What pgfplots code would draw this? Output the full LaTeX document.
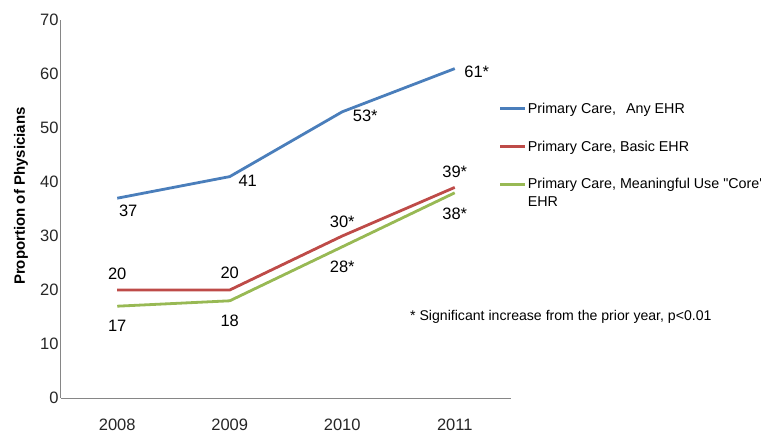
\documentclass[border=0pt]{standalone}
\usepackage{fontspec}
\setmainfont{Liberation Sans}
% same face without the TeX quote mapping, for straight quotes
\newfontfamily\plainsans{Liberation Sans}
\usepackage{pgfplots}
\pgfplotsset{compat=1.18}
\definecolor{anyehr}{HTML}{4A7EBB}
\definecolor{basicehr}{HTML}{BE4B48}
\definecolor{coreehr}{HTML}{98B954}
\definecolor{axisgray}{HTML}{868686}

\newcommand{\lblfont}{\fontsize{16.5}{19}\selectfont}

\begin{document}
\begin{tikzpicture}
\path[use as bounding box] (-61pt,-36pt) rectangle (700pt,398pt);
\begin{axis}[
  at={(0,0)}, anchor=south west,
  scale only axis, width=450pt, height=378pt,
  xmin=-0.5, xmax=3.5, ymin=0, ymax=70,
  axis lines*=left,
  axis line style={axisgray, line width=1pt},
  xtick={0,1,2,3}, xticklabels={2008,2009,2010,2011},
  ytick={0,10,...,70},
  major tick length=0pt,
  tick label style={font=\lblfont, text=black!85},
  /pgf/number format/assume math mode=true,
  xticklabel style={yshift=-17pt},
  yticklabel style={xshift=1pt},
  ylabel={Proportion of Physicians},
  ylabel style={at={([xshift=-40pt]rel axis cs:0,0.534)}, anchor=center,
    font=\bfseries\fontsize{15}{18}\selectfont},
  clip=false,
  legend style={at={(rel axis cs:0.973,0.784)}, anchor=north west,
    draw=none, fill=none, inner sep=0pt, row sep=24pt,
    font=\fontsize{14.3}{18}\selectfont,
    nodes={inner sep=1pt}},
  legend cell align=left,
  legend image code/.code={\draw[#1] (0pt,0pt) -- (25pt,0pt);},
]
\addplot[anyehr, line width=2.8pt] coordinates {(0,37) (1,41) (2,53) (3,61)};
\addlegendentry{Primary Care,\hspace{10pt}Any EHR}
\addplot[basicehr, line width=2.8pt] coordinates {(0,20) (1,20) (2,30) (3,39)};
\addlegendentry{Primary Care, Basic EHR}
\addplot[coreehr, line width=2.8pt] coordinates {(0,17) (1,18) (2,28) (3,38)};
\addlegendentry{\raisebox{0pt}[\height][0pt]{\parbox[t]{240pt}{\raggedright Primary Care, Meaningful Use {\plainsans"Core'}\\EHR}}}

% value labels, Any EHR
\node[font=\lblfont, xshift=11pt, yshift=-13pt] at (axis cs:0,37) {37};
\node[font=\lblfont, xshift=18pt, yshift=-4.5pt] at (axis cs:1,41) {41};
\node[font=\lblfont, xshift=23pt, yshift=-4.5pt] at (axis cs:2,53) {53*};
\node[font=\lblfont, xshift=22pt, yshift=-3pt] at (axis cs:3,61) {61*};
% value labels, Basic EHR
\node[font=\lblfont, yshift=16pt] at (axis cs:0,20) {20};
\node[font=\lblfont, yshift=17pt] at (axis cs:1,20) {20};
\node[font=\lblfont, yshift=14pt] at (axis cs:2,30) {30*};
\node[font=\lblfont, yshift=15.5pt] at (axis cs:3,39) {39*};
% value labels, Meaningful Use core EHR
\node[font=\lblfont, yshift=-20pt] at (axis cs:0,17) {17};
\node[font=\lblfont, yshift=-20pt] at (axis cs:1,18) {18};
\node[font=\lblfont, yshift=-20pt] at (axis cs:2,28) {28*};
\node[font=\lblfont, yshift=-21pt] at (axis cs:3,38) {38*};

% significance note
\node[anchor=west, inner sep=0pt, font=\fontsize{14.1}{17}\selectfont]
  at ([xshift=349pt, yshift=81pt]rel axis cs:0,0)
  {* Significant increase from the prior year, p<0.01};
\end{axis}
\end{tikzpicture}
\end{document}
